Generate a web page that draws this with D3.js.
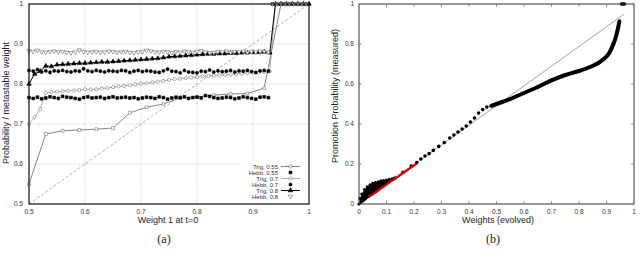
<!DOCTYPE html>
<html>
<head>
<meta charset="utf-8">
<script src="https://cdn.jsdelivr.net/npm/d3@7"></script>
<style>
  body { margin: 0; background: #fff; }
  svg text { font-family: "Liberation Sans", Arial, sans-serif; }
  .cap { font-family: "Liberation Serif", "DejaVu Serif", serif !important; }
</style>
</head>
<body>
<svg id="chart" width="640" height="263"></svg>
<script>
// ---- panel (a) data ----
const trig055X = [0.5, 0.53, 0.56, 0.59, 0.62, 0.65, 0.68, 0.71, 0.74, 0.77, 0.80, 0.83, 0.86, 0.89, 0.92, 0.95, 0.98];
const trig055Y = [0.55, 0.675, 0.683, 0.685, 0.687, 0.69, 0.728, 0.742, 0.75, 0.765, 0.768, 0.772, 0.775, 0.776, 0.79, 1, 1];

// Trig 0.7 and 0.8 share the 0.01 grid from 0.50 to 1.00
const trigStep = 0.01;
const trig07Y = [0.70, 0.717, 0.738, 0.778, 0.780, 0.781, 0.782, 0.783, 0.784, 0.785, 0.787, 0.786, 0.787, 0.789, 0.790,
  0.792, 0.794, 0.795, 0.797, 0.799, 0.801, 0.802, 0.804, 0.806, 0.808, 0.810, 0.812, 0.813, 0.815, 0.816,
  0.818, 0.819, 0.820, 0.821, 0.822, 0.823, 0.824, 0.825, 0.826, 0.827, 0.828, 0.829, 0.830, 0.832,
  1, 1, 1, 1, 1, 1, 1];
const trig08Y = [0.80, 0.825, 0.832, 0.845, 0.844, 0.848, 0.849, 0.850, 0.851, 0.852, 0.852, 0.853, 0.854, 0.855, 0.855,
  0.856, 0.857, 0.858, 0.859, 0.860, 0.861, 0.862, 0.863, 0.864, 0.866, 0.868, 0.869, 0.870, 0.871, 0.872,
  0.873, 0.874, 0.875, 0.875, 0.876, 0.876, 0.877, 0.877, 0.878, 0.878, 0.879, 0.879, 0.880, 0.878,
  1, 1, 1, 1, 1, 1, 1];

// Hebb runs share a 0.0075 grid from 0.50
const hebbStep = 0.0075;
const hebb055Y = [0.766, 0.764, 0.767, 0.763, 0.765, 0.768, 0.766, 0.764, 0.769, 0.767, 0.766, 0.764, 0.762, 0.766, 0.768,
  0.765, 0.766, 0.767, 0.764, 0.766, 0.768, 0.765, 0.766, 0.767, 0.765, 0.766, 0.763, 0.765, 0.767, 0.766,
  0.764, 0.768, 0.766, 0.762, 0.765, 0.767, 0.766, 0.768, 0.764, 0.766, 0.767, 0.765, 0.771, 0.769, 0.766,
  0.764, 0.765, 0.767, 0.766, 0.763, 0.765, 0.768, 0.766, 0.764, 0.762, 0.767, 0.768, 0.766,
  1, 1, 1, 1, 1, 1, 1, 1, 1];
const hebb07Y = [0.834, 0.832, 0.836, 0.830, 0.833, 0.829, 0.833, 0.832, 0.834, 0.831, 0.830, 0.833, 0.832, 0.838, 0.833,
  0.831, 0.834, 0.832, 0.830, 0.833, 0.832, 0.831, 0.834, 0.833, 0.829, 0.832, 0.834, 0.831, 0.833, 0.832,
  0.830, 0.829, 0.833, 0.837, 0.832, 0.831, 0.828, 0.834, 0.830, 0.829, 0.828, 0.832, 0.831, 0.835, 0.830,
  0.833, 0.831, 0.832, 0.834, 0.830, 0.833, 0.832, 0.834, 0.831, 0.829, 0.833, 0.834, 0.832,
  1, 1, 1, 1, 1, 1, 1, 1, 1];
const hebb08Y = [0.883, 0.881, 0.884, 0.880, 0.879, 0.881, 0.882, 0.880, 0.881, 0.879, 0.878, 0.880, 0.885, 0.881, 0.879,
  0.880, 0.881, 0.879, 0.880, 0.882, 0.881, 0.879, 0.880, 0.881, 0.879, 0.878, 0.880, 0.881, 0.884, 0.882,
  0.880, 0.879, 0.881, 0.880, 0.878, 0.881, 0.879, 0.882, 0.880, 0.879, 0.881, 0.883, 0.880, 0.878, 0.879,
  0.881, 0.880, 0.882, 0.879, 0.881, 0.880, 0.882, 0.879, 0.881, 0.880, 0.882, 0.881, 0.879,
  1, 1, 1, 1, 1, 1, 1, 1, 1];

const legendLabels = ['Trig, 0.55', 'Hebb, 0.55', 'Trig, 0.7', 'Hebb, 0.7', 'Trig, 0.8', 'Hebb, 0.8'];
const ticksA = [0.5, 0.6, 0.7, 0.8, 0.9, 1];

// ---- panel (b) data ----
const curveX = [0.13, 0.16, 0.19, 0.21, 0.225, 0.24, 0.255, 0.27, 0.29, 0.31, 0.33, 0.345, 0.36, 0.375, 0.39, 0.405, 0.42,
  0.435, 0.45, 0.465, 0.48, 0.5, 0.52, 0.55, 0.6, 0.65, 0.7, 0.75, 0.8, 0.84, 0.87, 0.89, 0.91, 0.925, 0.935, 0.942, 0.947];
const curveY = [0.128, 0.158, 0.19, 0.207, 0.225, 0.24, 0.252, 0.268, 0.288, 0.307, 0.33, 0.345, 0.36, 0.375, 0.39, 0.41, 0.43,
  0.455, 0.472, 0.485, 0.49, 0.5, 0.51, 0.525, 0.555, 0.585, 0.618, 0.645, 0.665, 0.685, 0.705, 0.725, 0.755, 0.8, 0.84, 0.88, 0.915];
const topX = [0.955, 0.96, 0.965];
const topY = [1, 1, 1];
const cloudX = [0, 0.004, 0.01, 0.02, 0.03, 0.04, 0.05, 0.06, 0.07, 0.08, 0.09, 0.1, 0.11, 0.12, 0.13];
const cloudTop = [0, 0.028, 0.05, 0.072, 0.086, 0.096, 0.103, 0.107, 0.111, 0.116, 0.117, 0.12, 0.123, 0.126, 0.13];
const cloudBottom = [0, 0, 0.003, 0.012, 0.025, 0.035, 0.045, 0.055, 0.065, 0.075, 0.085, 0.095, 0.105, 0.115, 0.13];
const redX = [0.035, 0.045, 0.055, 0.065, 0.075, 0.085, 0.095, 0.105, 0.115, 0.125, 0.135, 0.145, 0.155, 0.165, 0.175, 0.185, 0.195, 0.205, 0.21];
const redY = [0.035, 0.044, 0.054, 0.063, 0.073, 0.083, 0.092, 0.102, 0.112, 0.121, 0.131, 0.14, 0.15, 0.16, 0.169, 0.179, 0.189, 0.198, 0.203];
const refLine = [[0, 0], [0.965, 0.95]];
const ticksBX = [0, 0.1, 0.2, 0.3, 0.4, 0.5, 0.6, 0.7, 0.8, 0.9, 1];
const ticksBY = [0, 0.2, 0.4, 0.6, 0.8, 1];

const svg = d3.select('#chart');

// =========== panel (a) ===========
const xa = d3.scaleLinear().domain([0.5, 1]).range([29, 309]);
const ya = d3.scaleLinear().domain([0.5, 1]).range([204, 4]);
const ga = svg.append('g');

// grid
ga.selectAll('.gx').data(ticksA.slice(1, -1)).enter().append('line')
  .attr('x1', d => xa(d)).attr('x2', d => xa(d)).attr('y1', ya(0.5)).attr('y2', ya(1))
  .attr('stroke', '#aaa').attr('stroke-width', 0.6).attr('stroke-dasharray', '1,1.5');
ga.selectAll('.gy').data(ticksA.slice(1, -1)).enter().append('line')
  .attr('x1', xa(0.5)).attr('x2', xa(1)).attr('y1', d => ya(d)).attr('y2', d => ya(d))
  .attr('stroke', '#aaa').attr('stroke-width', 0.6).attr('stroke-dasharray', '1,1.5');

// legend background (hides the grid)
ga.append('rect').attr('x', 240).attr('y', 161).attr('width', 68).attr('height', 42).attr('fill', '#fff');

// diagonal
ga.append('line').attr('x1', xa(0.5)).attr('y1', ya(0.5)).attr('x2', xa(1)).attr('y2', ya(1))
  .attr('stroke', '#999').attr('stroke-width', 0.8).attr('stroke-dasharray', '3,2');

const trigX = trig07Y.map((d, i) => 0.5 + i * trigStep);
const hebbX = hebb055Y.map((d, i) => 0.5 + i * hebbStep);
const zip = (xs, ys) => xs.map((x, i) => ({x, y: ys[i]}));

const lineA = d3.line().x(d => xa(d.x)).y(d => ya(d.y));
const series = [
  {name: 'Trig, 0.55', pts: zip(trig055X, trig055Y), line: '#777', lw: 0.9, mark: 'square', fill: '#fff', stroke: '#777'},
  {name: 'Hebb, 0.55', pts: zip(hebbX, hebb055Y), line: null, mark: 'square', fill: '#000', stroke: '#000'},
  {name: 'Trig, 0.7', pts: zip(trigX, trig07Y), line: '#888', lw: 0.7, mark: 'circle', fill: '#fff', stroke: '#777'},
  {name: 'Hebb, 0.7', pts: zip(hebbX, hebb07Y), line: null, mark: 'circle', fill: '#000', stroke: '#000'},
  {name: 'Trig, 0.8', pts: zip(trigX, trig08Y), line: '#000', lw: 1, mark: 'triangle', fill: '#000', stroke: '#000'},
  {name: 'Hebb, 0.8', pts: zip(hebbX, hebb08Y), line: null, mark: 'tridown', fill: '#fff', stroke: '#666'}
];
const symbols = {
  square: d3.symbol().type(d3.symbolSquare).size(8),
  circle: d3.symbol().type(d3.symbolCircle).size(8),
  triangle: d3.symbol().type(d3.symbolTriangle).size(9),
  tridown: d3.symbol().type(d3.symbolTriangle).size(8)
};
function drawMarks(g, s, pts, tx, ty) {
  g.selectAll(null).data(pts).enter().append('path')
    .attr('d', symbols[s.mark]())
    .attr('transform', d => `translate(${tx(d)},${ty(d)})${s.mark === 'tridown' ? ' rotate(180)' : ''}`)
    .attr('fill', s.fill).attr('stroke', s.stroke).attr('stroke-width', 0.6);
}
series.forEach(s => {
  if (s.line) ga.append('path').attr('d', lineA(s.pts)).attr('fill', 'none').attr('stroke', s.line).attr('stroke-width', s.lw);
});
series.forEach(s => drawMarks(ga, s, s.pts, d => xa(d.x), d => ya(d.y)));

// frame and ticks
ga.append('rect').attr('x', xa(0.5)).attr('y', ya(1)).attr('width', xa(1) - xa(0.5)).attr('height', ya(0.5) - ya(1))
  .attr('fill', 'none').attr('stroke', '#111').attr('stroke-width', 1.2);
ga.selectAll('.tyl').data(ticksA).enter().append('text')
  .attr('x', 23).attr('y', d => ya(d) + 2.3).attr('text-anchor', 'end').attr('font-size', 6.5).attr('fill', '#333')
  .text(d => d3.format('')(d));
ga.selectAll('.txl').data(ticksA).enter().append('text')
  .attr('x', d => xa(d)).attr('y', 214).attr('text-anchor', 'middle').attr('font-size', 6.5).attr('fill', '#333')
  .text(d => d3.format('')(d));

// legend
legendLabels.forEach((lab, i) => {
  const s = series[i];
  const yy = 166.5 + i * 6;
  ga.append('text').attr('x', 278).attr('y', yy + 2).attr('text-anchor', 'end').attr('font-size', 6).attr('fill', '#333').text(lab);
  if (s.line) ga.append('line').attr('x1', 281).attr('x2', 300).attr('y1', yy).attr('y2', yy).attr('stroke', s.line).attr('stroke-width', s.lw);
  drawMarks(ga, s, [0], () => 290.5, () => yy);
});

ga.append('text').attr('transform', 'translate(9,103) rotate(-90)').attr('text-anchor', 'middle')
  .attr('font-size', 9).attr('fill', '#222').text('Probability / metastable weight');
ga.append('text').attr('x', 168).attr('y', 222.5).attr('text-anchor', 'middle').attr('font-size', 9).attr('fill', '#222')
  .text('Weight 1 at t=0');
ga.append('text').attr('class', 'cap').attr('x', 164).attr('y', 243).attr('text-anchor', 'middle').attr('font-size', 12)
  .attr('fill', '#222').text('(a)');

// =========== panel (b) ===========
const xb = d3.scaleLinear().domain([0, 1]).range([359, 634]);
const yb = d3.scaleLinear().domain([0, 1]).range([204, 4]);
const gb = svg.append('g');

gb.append('path').attr('d', d3.line().x(d => xb(d[0])).y(d => yb(d[1]))(refLine))
  .attr('fill', 'none').attr('stroke', '#888').attr('stroke-width', 0.8);

const cloud = cloudX.map((x, i) => ({x, t: cloudTop[i], b: cloudBottom[i]}));
gb.append('path').attr('d', d3.area().x(d => xb(d.x)).y0(d => yb(d.b)).y1(d => yb(d.t))(cloud)).attr('fill', '#000');
gb.selectAll(null).data(cloud).enter().append('circle')
  .attr('cx', d => xb(d.x)).attr('cy', d => yb(d.t)).attr('r', 1.6).attr('fill', '#000');

const curve = zip(curveX, curveY);
const dense = curve.filter(d => d.x >= 0.48);
gb.append('path').attr('d', d3.line().x(d => xb(d.x)).y(d => yb(d.y)).curve(d3.curveMonotoneX)(dense))
  .attr('fill', 'none').attr('stroke', '#000').attr('stroke-width', 4);
gb.selectAll(null).data(curve).enter().append('circle')
  .attr('cx', d => xb(d.x)).attr('cy', d => yb(d.y)).attr('r', 1.8).attr('fill', '#000');
gb.selectAll(null).data(zip(topX, topY)).enter().append('circle')
  .attr('cx', d => xb(d.x)).attr('cy', d => yb(d.y)).attr('r', 1.8).attr('fill', '#000');

const red = zip(redX, redY);
gb.append('path').attr('d', d3.line().x(d => xb(d.x)).y(d => yb(d.y))(red))
  .attr('fill', 'none').attr('stroke', '#d00').attr('stroke-width', 2.4);

gb.append('rect').attr('x', xb(0)).attr('y', yb(1)).attr('width', xb(1) - xb(0)).attr('height', yb(0) - yb(1))
  .attr('fill', 'none').attr('stroke', '#333').attr('stroke-width', 1);
// mirrored inward ticks
gb.selectAll(null).data(ticksBX.slice(1, -1)).enter().append('path')
  .attr('d', d => `M${xb(d)},${yb(0)}v-3M${xb(d)},${yb(1)}v3`).attr('stroke', '#666').attr('stroke-width', 0.7);
gb.selectAll(null).data(ticksBY.slice(1, -1)).enter().append('path')
  .attr('d', d => `M${xb(0)},${yb(d)}h3M${xb(1)},${yb(d)}h-3`).attr('stroke', '#666').attr('stroke-width', 0.7);
gb.selectAll(null).data(ticksBY).enter().append('text')
  .attr('x', 354).attr('y', d => yb(d) + 2.3).attr('text-anchor', 'end').attr('font-size', 6.5).attr('fill', '#333')
  .text(d => d3.format('')(d));
gb.selectAll(null).data(ticksBX).enter().append('text')
  .attr('x', d => xb(d)).attr('y', 214).attr('text-anchor', 'middle').attr('font-size', 6.5).attr('fill', '#333')
  .text(d => d3.format('')(d));

gb.append('text').attr('transform', 'translate(338,96) rotate(-90)').attr('text-anchor', 'middle')
  .attr('font-size', 9).attr('fill', '#222').text('Promotion Probability (measured)');
gb.append('text').attr('x', 498).attr('y', 222.5).attr('text-anchor', 'middle').attr('font-size', 9).attr('fill', '#222')
  .text('Weights (evolved)');
gb.append('text').attr('class', 'cap').attr('x', 493).attr('y', 243).attr('text-anchor', 'middle').attr('font-size', 12)
  .attr('fill', '#222').text('(b)');
</script>
</body>
</html>
